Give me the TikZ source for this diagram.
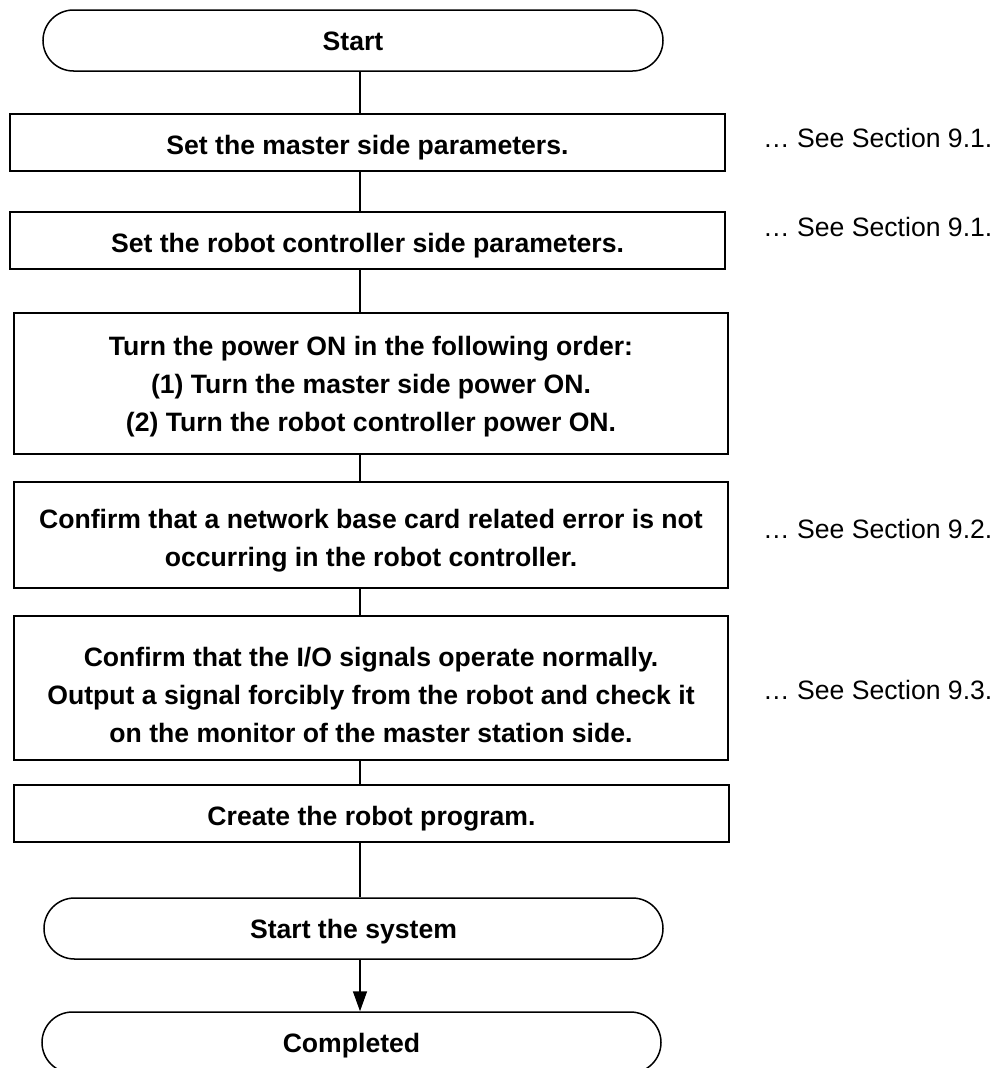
\documentclass[tikz,border=0pt]{standalone}
\usepackage{fontspec}
\setmainfont{Liberation Sans}
\usetikzlibrary{arrows.meta}

\newcommand{\boxfont}{\fontsize{26.6pt}{38pt}\selectfont\bfseries}
\newcommand{\notefont}{\fontsize{26.6pt}{38pt}\selectfont}
% invisible strut that lowers the text block inside a multi-line box
\newcommand{\lowerby}[1]{\rule{0pt}{#1}}

\begin{document}
\begin{tikzpicture}[x=1pt, y=-1pt,
  stepbox/.style={draw, line width=1.5pt, rectangle, inner sep=0pt,
                  align=center, font=\boxfont},
  oneline/.style={text height=24pt, text depth=0pt},
  term/.style={draw, line width=1.5pt, rectangle, rounded corners=30.5pt,
               inner sep=0pt, minimum height=61pt, font=\boxfont,
               text height=19pt, text depth=0pt},
  note/.style={anchor=west, inner sep=0pt, font=\notefont},
  link/.style={line width=1.5pt},
  tip/.style={-{Triangle[width=14pt,length=20pt]}}
]
\useasboundingbox (0,0) rectangle (1003,1068);

% vertical spine of the flow
\coordinate (spine) at (360,0);

% terminals and process steps
\node[term, minimum width=620pt] (start) at (353,40.5) {Start};
\node[stepbox, oneline, minimum width=715pt, minimum height=57pt] (b1) at (367.5,142.5)
  {Set the master side parameters.};
\node[stepbox, oneline, minimum width=715pt, minimum height=57pt] (b2) at (367.5,240.5)
  {Set the robot controller side parameters.};
\node[stepbox, minimum width=714pt, minimum height=141pt] (b3) at (371,383.5)
  {\lowerby{25pt}Turn the power ON in the following order:\\
   (1) Turn the master side power ON.\\
   (2) Turn the robot controller power ON.};
\node[stepbox, minimum width=714pt, minimum height=106pt] (b4) at (371,535)
  {\lowerby{30pt}Confirm that a network base card related error is not\\
   occurring in the robot controller.};
\node[stepbox, minimum width=714pt, minimum height=144pt] (b5) at (371,688)
  {\lowerby{33pt}Confirm that the I/O signals operate normally.\\
   Output a signal forcibly from the robot and check it\\
   on the monitor of the master station side.};
\node[stepbox, oneline, minimum width=715pt, minimum height=57pt] (b6) at (371.5,813.5)
  {Create the robot program.};
\node[term, minimum width=619pt] (sys) at (353.5,928.5) {Start the system};
\node[term, minimum width=619pt] (done) at (351.5,1042.5) {Completed};

% references to the manual sections
\node[note] (n1) at (763,138) {… See Section 9.1.};
\node[note] (n2) at (763,227) {… See Section 9.1.};
\node[note] (n3) at (763,529) {… See Section 9.2.};
\node[note] (n4) at (763,690) {… See Section 9.3.};

% connectors
\draw[link] (start.south -| spine) -- (b1.north -| spine);
\draw[link] (b1.south -| spine) -- (b2.north -| spine);
\draw[link] (b2.south -| spine) -- (b3.north -| spine);
\draw[link] (b3.south -| spine) -- (b4.north -| spine);
\draw[link] (b4.south -| spine) -- (b5.north -| spine);
\draw[link] (b5.south -| spine) -- (b6.north -| spine);
\draw[link] (b6.south -| spine) -- (sys.north -| spine);
\draw[link, tip] (sys.south -| spine) -- (done.north -| spine);
\end{tikzpicture}
\end{document}
